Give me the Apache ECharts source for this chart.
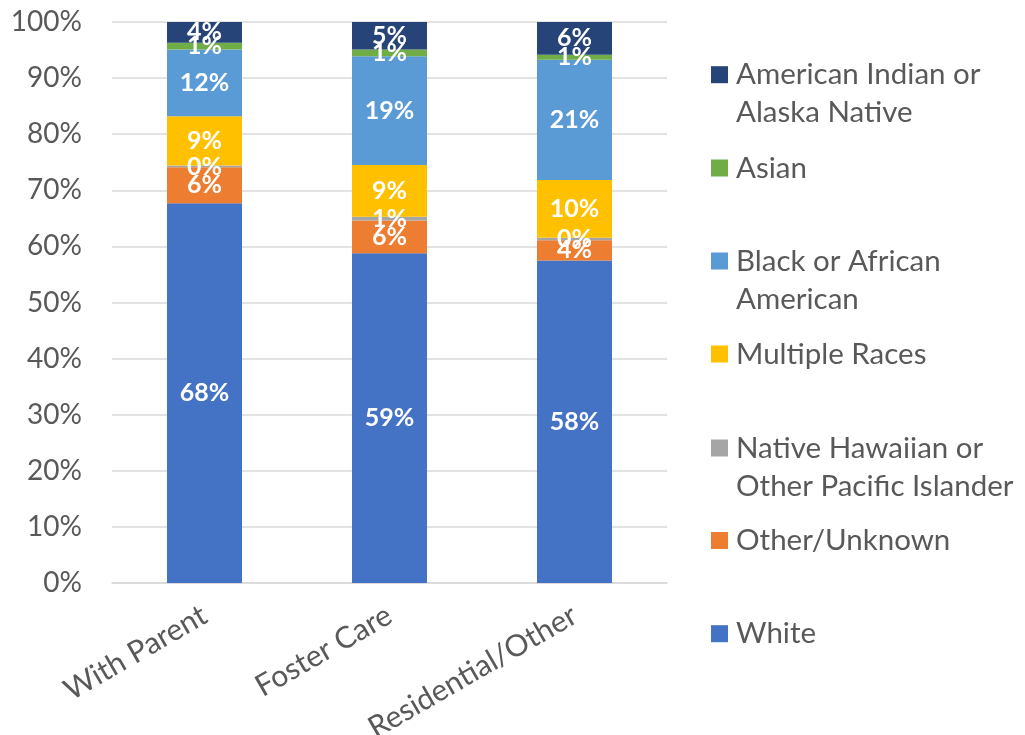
<!DOCTYPE html>
<html>
<head>
<meta charset="utf-8">
<script src="https://cdn.jsdelivr.net/npm/echarts@6/dist/echarts.min.js"></script>
<style>html,body{margin:0;padding:0;background:#fff;}#c{width:1025px;height:735px;}</style>
</head>
<body>
<div id="c"></div>
<script>
const categories = ['With Parent', 'Foster Care', 'Residential/Other'];
const white = [67.7, 58.8, 57.5];
const otherUnknown = [6.4, 5.8, 3.6];
const nhpi = [0.3, 0.7, 0.45];
const multiple = [8.8, 9.2, 10.3];
const black = [11.9, 19.4, 21.4];
const asian = [1.2, 1.2, 0.9];
const aian = [3.7, 4.9, 5.85];
const yTicks = [0, 10, 20, 30, 40, 50, 60, 70, 80, 90, 100];

const FONT = 'Lato';
const TXT = '#595959';

const seriesDefs = [
  { name: 'White', data: white, color: '#4472C4' },
  { name: 'Other/Unknown', data: otherUnknown, color: '#ED7D31' },
  { name: 'Native Hawaiian or\nOther Pacific Islander', data: nhpi, color: '#A5A5A5' },
  { name: 'Multiple Races', data: multiple, color: '#FFC000' },
  { name: 'Black or African\nAmerican', data: black, color: '#5B9BD5' },
  { name: 'Asian', data: asian, color: '#70AD47' },
  { name: 'American Indian or\nAlaska Native', data: aian, color: '#264478' }
];

// legend entries top-down with icon centre y
const legendPos = [
  { name: 'American Indian or\nAlaska Native', cy: 74.7, lines: 2 },
  { name: 'Asian', cy: 168, lines: 1 },
  { name: 'Black or African\nAmerican', cy: 261, lines: 2 },
  { name: 'Multiple Races', cy: 354, lines: 1 },
  { name: 'Native Hawaiian or\nOther Pacific Islander', cy: 448, lines: 2 },
  { name: 'Other/Unknown', cy: 540.5, lines: 1 },
  { name: 'White', cy: 633.7, lines: 1 }
];
const LH = 38;
const legends = legendPos.map(p => ({
  show: true,
  data: [p.name],
  left: 711,
  top: p.lines === 2 ? p.cy - LH * 1.5 : p.cy - LH / 2,
  orient: 'vertical',
  padding: 0,
  itemWidth: 17,
  itemHeight: 17,
  itemGap: 0,
  icon: 'rect',
  selectedMode: false,
  formatter: name => (name.indexOf('\n') >= 0 ? ' \n' + name : name),
  textStyle: {
    fontFamily: FONT,
    fontSize: 29.5,
    color: TXT,
    lineHeight: LH,
    padding: [0, 0, 0, 3]
  }
}));

const option = {
  animation: false,
  backgroundColor: '#ffffff',
  grid: { left: 112, right: 358, top: 22, bottom: 152, containLabel: false, outerBoundsMode: 'none' },
  legend: legends,
  xAxis: {
    type: 'category',
    data: categories,
    axisTick: { show: false },
    axisLine: { lineStyle: { color: '#D9D9D9', width: 1.5 } },
    axisLabel: { rotate: 30, margin: 30, fontFamily: FONT, fontSize: 30, color: TXT, interval: 0 }
  },
  yAxis: {
    type: 'value',
    min: yTicks[0],
    max: yTicks[yTicks.length - 1],
    interval: 10,
    axisLine: { show: false },
    axisTick: { show: false },
    splitLine: { lineStyle: { color: '#D9D9D9', width: 1.5 } },
    axisLabel: { formatter: '{value}%', fontFamily: FONT, fontSize: 28, color: TXT, margin: 30 }
  },
  series: seriesDefs.map(s => ({
    name: s.name,
    type: 'bar',
    stack: 'total',
    barWidth: 75,
    data: s.data,
    itemStyle: { color: s.color },
    label: {
      show: true,
      position: 'inside',
      formatter: p => Math.round(p.value) + '%',
      color: '#ffffff',
      fontFamily: FONT,
      fontWeight: 'bold',
      fontSize: 25
    }
  }))
};

const chart = echarts.init(document.getElementById('c'), null, { renderer: 'canvas' });
chart.setOption(option);
</script>
</body>
</html>
